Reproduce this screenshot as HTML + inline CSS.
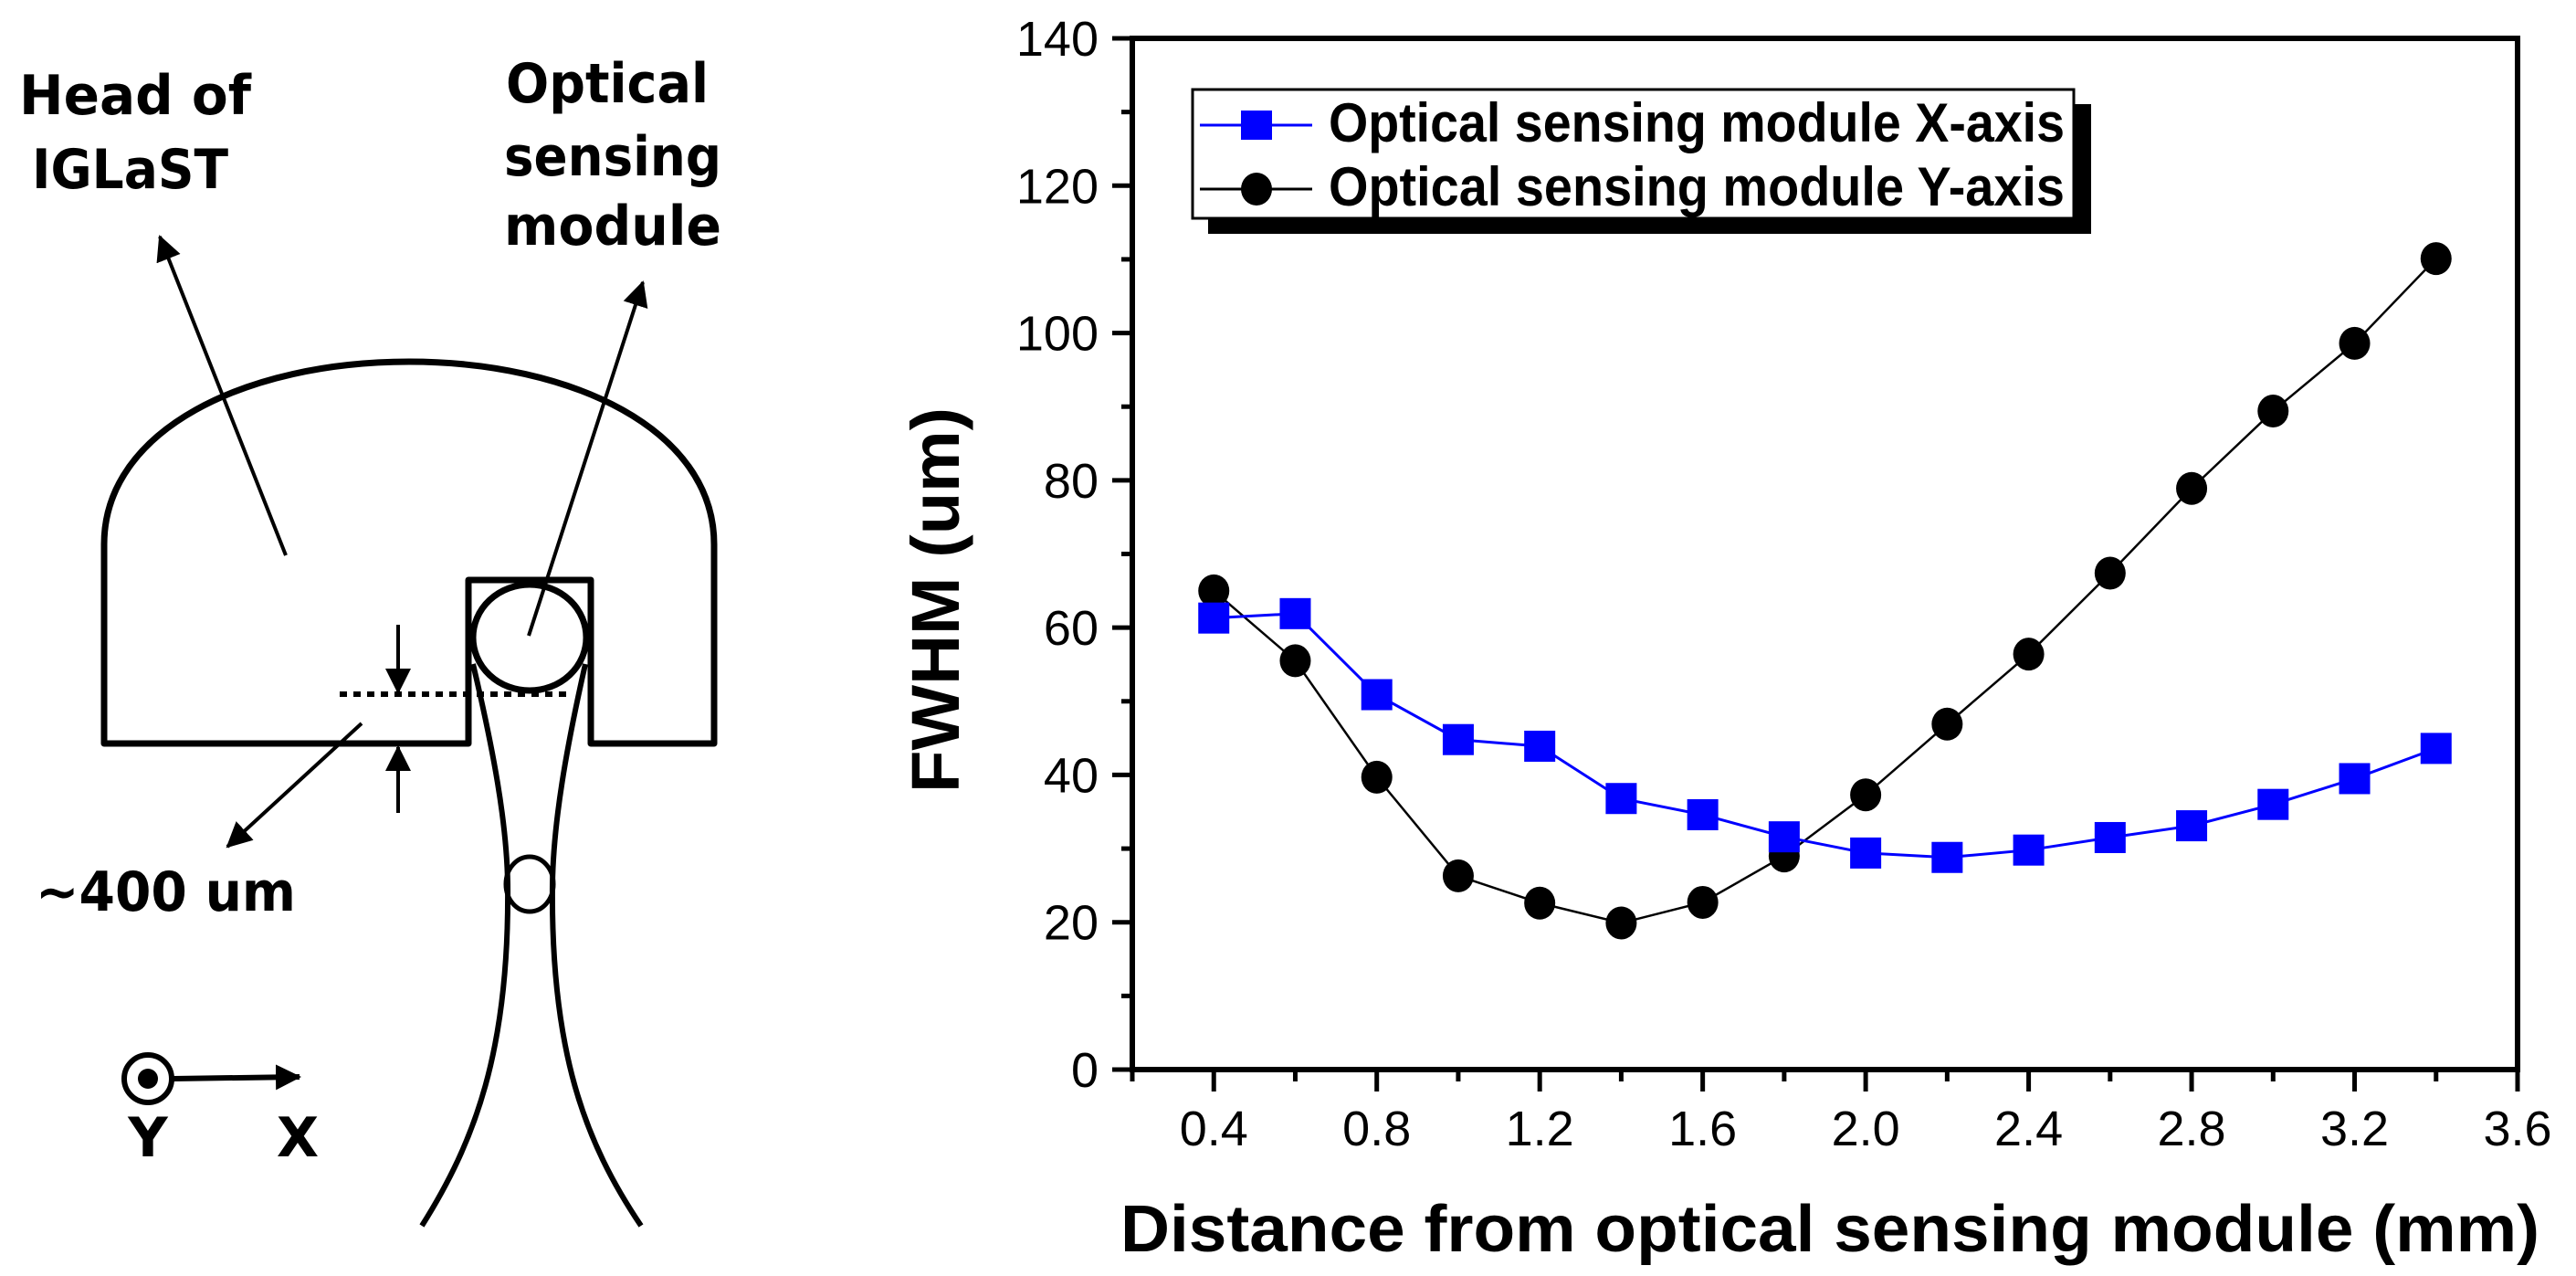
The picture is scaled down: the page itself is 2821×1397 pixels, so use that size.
<!DOCTYPE html>
<html><head><meta charset="utf-8"><style>
html,body{margin:0;padding:0;background:#fff;}
svg{display:block;}
text{font-family:"Liberation Sans",Arial,sans-serif;}
.dg{font-family:"DejaVu Sans","Liberation Sans",sans-serif;font-weight:bold;font-size:60px;}
</style></head><body>
<svg id="root" width="2821" height="1397" viewBox="0 0 2821 1397" xmlns="http://www.w3.org/2000/svg">
<defs>
<marker id="ah" viewBox="0 0 28 28" refX="26" refY="14" markerWidth="28" markerHeight="28" orient="auto-start-reverse" markerUnits="userSpaceOnUse">
<path d="M0,0 L28,14 L0,28 z" fill="#000" stroke="none"/>
</marker>
</defs>
<!-- Diagram -->
<g fill="none" stroke="#000">
<path d="M114,814 L114,596 C114,470 270,396 448,396 C626,396 782,470 782,596 L782,814 L647,814 L647,635 L513,635 L513,814 Z" stroke-width="7" stroke-linejoin="round"/>
<ellipse cx="580" cy="698" rx="62" ry="58" stroke-width="7"/>
<line x1="372" y1="760" x2="620" y2="760" stroke-width="6" stroke-dasharray="8,7"/>
<path d="M518,727 C540,820 555,900 556,968 C558,1150 520,1250 462,1342" stroke-width="6"/>
<path d="M641,727 C620,820 606,900 605,968 C603,1150 640,1250 702,1342" stroke-width="6"/>
<ellipse cx="580" cy="968" rx="26" ry="30" stroke-width="5"/>
<line x1="313" y1="608" x2="175" y2="259" stroke-width="4" marker-end="url(#ah)"/>
<line x1="579" y1="696" x2="704" y2="309" stroke-width="4" marker-end="url(#ah)"/>
<line x1="436" y1="684" x2="436" y2="758" stroke-width="4" marker-end="url(#ah)"/>
<line x1="436" y1="890" x2="436" y2="818" stroke-width="4" marker-end="url(#ah)"/>
<line x1="396" y1="792" x2="249" y2="927" stroke-width="4" marker-end="url(#ah)"/>
<circle cx="162" cy="1181" r="26" stroke-width="6"/>
<circle cx="162" cy="1181" r="11" fill="#000" stroke="none"/>
<line x1="190" y1="1181" x2="328" y2="1179" stroke-width="6" marker-end="url(#ah)"/>
</g>
<g>
<text class="dg" x="21" y="125" textLength="254" lengthAdjust="spacingAndGlyphs">Head of</text>
<text class="dg" x="35" y="206" textLength="215" lengthAdjust="spacingAndGlyphs">IGLaST</text>
<text class="dg" x="554" y="112" textLength="222" lengthAdjust="spacingAndGlyphs">Optical</text>
<text class="dg" x="552" y="192" textLength="238" lengthAdjust="spacingAndGlyphs">sensing</text>
<text class="dg" x="552" y="268" textLength="238" lengthAdjust="spacingAndGlyphs">module</text>
<text class="dg" x="39" y="997" textLength="285" lengthAdjust="spacingAndGlyphs">~400 um</text>
<text class="dg" x="162" y="1266" text-anchor="middle">Y</text>
<text class="dg" x="326" y="1266" text-anchor="middle">X</text>
</g>
<g id="chart"></g>
</svg>
<script>
const xValues = [0.4,0.6,0.8,1.0,1.2,1.4,1.6,1.8,2.0,2.2,2.4,2.6,2.8,3.0,3.2,3.4];
const seriesX = [61.3,61.9,50.9,44.8,43.9,36.8,34.6,31.6,29.4,28.8,29.8,31.5,33.1,36.0,39.5,43.6];
const seriesY = [65.0,55.5,39.7,26.3,22.6,19.9,22.7,29.0,37.3,46.9,56.4,67.4,78.9,89.4,98.6,110.1];
const xTickLabels = ["0.4","0.8","1.2","1.6","2.0","2.4","2.8","3.2","3.6"];
const yTickLabels = ["0","20","40","60","80","100","120","140"];
const legendLabels = ["Optical sensing module X-axis","Optical sensing module Y-axis"];

const NS="http://www.w3.org/2000/svg";
const L=1240,R=2757,T=42,B=1171,XMIN=0.2,XMAX=3.6,YMIN=0,YMAX=140;
const sx=v=>L+(v-XMIN)/(XMAX-XMIN)*(R-L);
const sy=v=>B-(v-YMIN)/(YMAX-YMIN)*(B-T);
const g=document.getElementById('chart');
function mk(tag,attrs,parent){const e=document.createElementNS(NS,tag);for(const k in attrs)e.setAttribute(k,attrs[k]);(parent||g).appendChild(e);return e;}

let e=mk('rect',{x:L,y:T,width:R-L,height:B-T,fill:'none',stroke:'#000','stroke-width':6});



for(let v=0;v<=140;v+=10){
  const major=v%20===0;
  e=mk('line',{x1:L-(major?22:12),x2:L,y1:sy(v),y2:sy(v),stroke:'#000','stroke-width':5});
  
  
}
yTickLabels.forEach(s=>{
  const v=parseFloat(s);
  e=mk('text',{x:1203,y:sy(v)+19,'text-anchor':'end','font-size':54});
  e.textContent=s;
  
  
});
for(let i=0;i<=17;i++){
  const v=0.2+i*0.2;const major=i%2===1;
  e=mk('line',{x1:sx(v),x2:sx(v),y1:B,y2:B+(major?24:13),stroke:'#000','stroke-width':5});
  
  
}
xTickLabels.forEach(s=>{
  const v=parseFloat(s);
  e=mk('text',{x:sx(v),y:1254,'text-anchor':'middle','font-size':54});
  e.textContent=s;
  
  
});
e=mk('text',{x:1227,y:1370,'font-size':72,'font-weight':'bold',textLength:1554,lengthAdjust:'spacingAndGlyphs'});
e.textContent='Distance from optical sensing module (mm)';


e=mk('text',{x:0,y:0,'font-size':74,'font-weight':'bold',textLength:422,lengthAdjust:'spacingAndGlyphs',transform:'translate(1050,868) rotate(-90)'});
e.textContent='FWHM (um)';



function line(vals,color,w,name){
  const p=vals.map((v,i)=>sx(xValues[i])+','+sy(v)).join(' ');
  const el=mk('polyline',{points:p,fill:'none',stroke:color,'stroke-width':w});
  
  
}
line(seriesY,'#000',2.5,'y-axis-series-line');
line(seriesX,'#0000ff',3,'x-axis-series-line');
seriesY.forEach((v,i)=>{
  const c=mk('ellipse',{cx:sx(xValues[i]),cy:sy(v),rx:17,ry:18,fill:'#000'});
  
  
});
seriesX.forEach((v,i)=>{
  const r=mk('rect',{x:sx(xValues[i])-17,y:sy(v)-17,width:34,height:34,fill:'#0000ff'});
  
  
});

const lg=mk('g',{});


e=mk('rect',{x:1323,y:114,width:967,height:142,fill:'#000'},lg);


e=mk('rect',{x:1306,y:98,width:965,height:141,fill:'#fff',stroke:'#000','stroke-width':3},lg);


const rows=[137,207];
rows.forEach((cy,i)=>{
  const en=mk('g',{},lg);
  
  
  mk('line',{x1:1314,x2:1437,y1:cy,y2:cy,stroke:i===0?'#0000ff':'#000','stroke-width':3},en);
  if(i===0) mk('rect',{x:1359,y:cy-16,width:34,height:32,fill:'#0000ff'},en);
  else mk('ellipse',{cx:1376,cy:cy,rx:17,ry:18,fill:'#000'},en);
  const t=mk('text',{x:1455,y:cy+18,'font-size':60,'font-weight':'bold',textLength:806,lengthAdjust:'spacingAndGlyphs'},en);
  t.textContent=legendLabels[i];
});
</script>
</body></html>
